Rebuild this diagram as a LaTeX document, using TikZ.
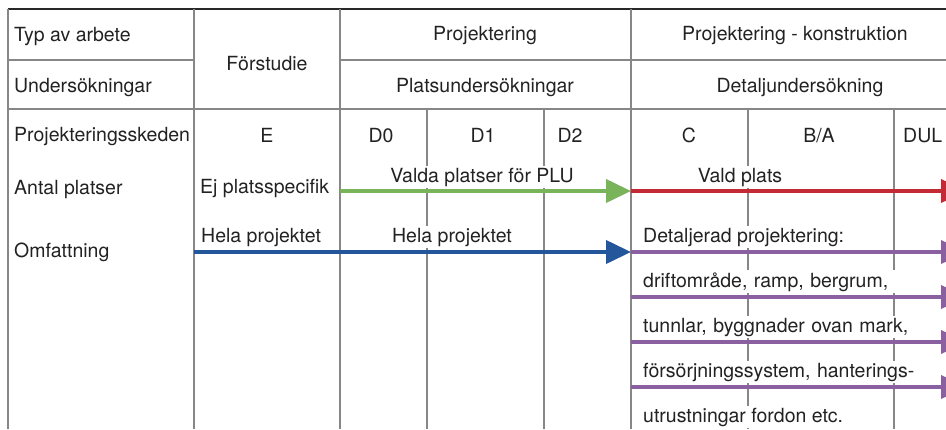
\documentclass[tikz,border=0pt]{standalone}
\usepackage{fontspec}
\setmainfont{TeX Gyre Heros}
\usetikzlibrary{arrows.meta}

\definecolor{ink}{RGB}{34,34,34}
\definecolor{rule}{RGB}{135,135,135}
\definecolor{toprule}{RGB}{40,40,40}
\definecolor{arrgreen}{RGB}{122,180,90}
\definecolor{arrred}{RGB}{196,42,54}
\definecolor{arrblue}{RGB}{36,86,156}
\definecolor{arrpurple}{RGB}{138,96,160}

\begin{document}
\begin{tikzpicture}[x=1pt,y=-1pt,
  font=\fontsize{19.5}{23}\selectfont,
  gridline/.style={draw=rule,line width=1.3pt},
  label/.style={text=ink,inner sep=0pt,anchor=base west},
  clabel/.style={text=ink,inner sep=0pt,anchor=base},
  boxed/.style={fill=white,inner sep=2pt},
  widebox/.style={boxed,text width=272pt,align=left},
  flow/.style={line width=4pt,-{Triangle[length=25pt,width=23pt]}}
]
\useasboundingbox (0,0) rectangle (946,429);
\clip (0,0) rectangle (946,429);

% table rules
\draw[draw=toprule,line width=1.5pt] (8,9) -- (946,9);
\draw[gridline] (8,9) -- (8,429);
\draw[gridline] (8,60) -- (194,60);
\draw[gridline] (340,60) -- (946,60);
\draw[gridline] (8,109) -- (946,109);
\foreach \x in {194,340,631}
  \draw[gridline] (\x,9) -- (\x,429);
\foreach \x in {427,544,748,894}
  \draw[gridline] (\x,109) -- (\x,429);

% row headings
\node[label] (typ) at (14,41) {Typ av arbete};
\node[label] (und) at (14,92) {Undersökningar};
\node[label] (skeden) at (14,141) {Projekteringsskeden};
\node[label] (antal) at (14,194) {Antal platser};
\node[label] (omf) at (14,257) {Omfattning};

% column headings
\node[clabel] (forst) at (267,70) {Förstudie};
\node[clabel] (proj) at (485,40) {Projektering};
\node[clabel] (plats) at (485,92) {Platsundersökningar};
\node[clabel] (projk) at (795,40) {Projektering - konstruktion};
\node[clabel] (detu) at (800,92) {Detaljundersökning};

% design stages
\node[clabel] (sE) at (267,142) {E};
\node[clabel] (sD0) at (381,142) {D0};
\node[clabel] (sD1) at (483,142) {D1};
\node[clabel] (sD2) at (570,142) {D2};
\node[clabel] (sC) at (689,142) {C};
\node[clabel] (sBA) at (819,142) {B/A};
\node[label] (sDUL) at (903,142) {DUL};

% labels above the arrows
\node[label] (ejpl) at (200,193) {Ej platsspecifik};
\node[clabel,boxed] (valda) at (482,182) {Valda platser för PLU};
\node[clabel,boxed] (vald) at (740,182) {Vald plats};
\node[label] (hela1) at (201,242) {Hela projektet};
\node[clabel,boxed] (hela2) at (452,242) {Hela projektet};

% detailed design items
\node[label,boxed] (det1) at (641,242) {Detaljerad projektering:};
\node[label,widebox] (det2) at (641,287) {\mbox{driftområde, ramp, bergrum,}};
\node[label,widebox] (det3) at (641,332) {\mbox{tunnlar, byggnader ovan mark,}};
\node[label,widebox] (det4) at (641,377) {\mbox{försörjningssystem, hanterings-}};
\node[label,boxed] (det5) at (641,422) {utrustningar fordon etc.};

% arrow end points
\coordinate (gS) at (340,191);
\coordinate (gE) at (631,191);
\coordinate (rE) at (966,191);
\coordinate (bS) at (194,252);
\coordinate (bE) at (631,252);
\foreach \i/\y in {1/252,2/297,3/342,4/387}{
  \coordinate (pS\i) at (631,\y);
  \coordinate (pE\i) at (966,\y);
}

% arrows
\draw[flow,arrgreen] (gS) -- (gE);
\draw[flow,arrred] (gE) -- (rE);
\draw[flow,arrblue] (bS) -- (bE);
\foreach \i in {1,...,4}
  \draw[flow,arrpurple] (pS\i) -- (pE\i);
\end{tikzpicture}
\end{document}
